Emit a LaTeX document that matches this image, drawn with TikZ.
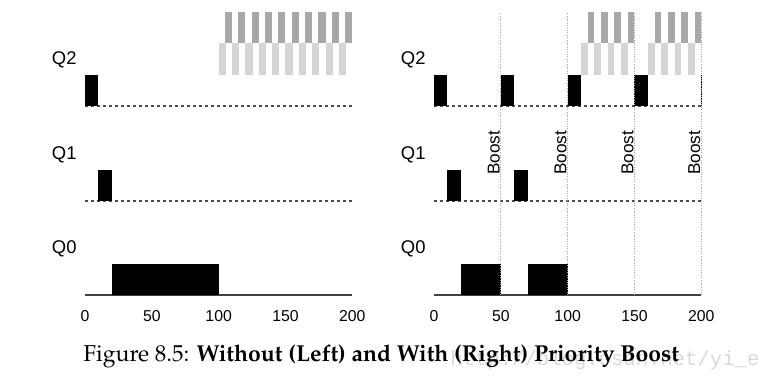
\documentclass[tikz,border=0pt]{standalone}
\usepackage[T1]{fontenc}
\usepackage{fontspec}
\setmainfont{Liberation Sans}
\newfontfamily\monofont{Liberation Mono}
\newcommand{\palatino}{\fontencoding{T1}\fontfamily{ppl}\selectfont}

\begin{document}
\begin{tikzpicture}[x=0.5pt,y=0.5pt,
  bloque/.style={fill=black},
  grisOsc/.style={fill=gray!68},
  grisCla/.style={fill=gray!33},
  lineaCola/.style={black!70,line width=0.7pt,dash pattern=on 1.6pt off 1.4pt},
  lineaEje/.style={black!75,line width=1pt},
  lineaBoost/.style={gray!70,line width=0.6pt,dash pattern=on 0.5pt off 0.7pt},
  cola/.style={anchor=west,inner sep=0pt,font=\fontsize{9.2}{11}\selectfont},
  marca/.style={anchor=base,inner sep=0pt,font=\fontsize{7.9}{9}\selectfont},
  boost/.style={rotate=90,anchor=base,inner sep=0pt,font=\fontsize{8.6}{10}\selectfont}]
\useasboundingbox (0,0) rectangle (772,382);
\def\escT{1.3365};%px por unidad de tiempo
\def\yQdos{276};%base Q2
\def\yQuno{181};%base Q1
\def\yQcero{87};%base Q0
\def\hB{31};%alto de bloque

%Paneles: ejes, colas y marcas
\foreach \ox/\lado in {85/izq,434/der}{
\begin{scope}[shift={(\ox,0)},xscale=\escT]
  \draw[lineaCola] (0,\yQdos) -- (200,\yQdos);
  \draw[lineaCola] (0,\yQuno) -- (200,\yQuno);
  \draw[lineaEje] (0,\yQcero) -- (200,\yQcero);
  \node[cola] (q2\lado) at (-25,322) {Q2};
  \node[cola] (q1\lado) at (-25,227) {Q1};
  \node[cola] (q0\lado) at (-25,133) {Q0};
  \foreach \t in {0,50,...,200}{
    \node[marca] (t\t\lado) at (\t,61) {\t};
  }
\end{scope}
}

%Sin boost
\begin{scope}[shift={(85,0)},xscale=\escT]
  \foreach \k in {0,...,9}{
    \fill[grisCla] (100+10*\k,307) rectangle (105.4+10*\k,339);
    \fill[grisOsc] (104.6+10*\k,339) rectangle (110+10*\k,370);
  }
  \fill[bloque] (0,\yQdos) rectangle (10,\yQdos+\hB);
  \fill[bloque] (10,\yQuno) rectangle (20,\yQuno+\hB);
  \fill[bloque] (20,\yQcero) rectangle (100,\yQcero+\hB);
\end{scope}

%Con boost
\begin{scope}[shift={(434,0)},xscale=\escT]
  \foreach \s in {110,160}{
    \foreach \k in {0,...,3}{
      \fill[grisCla] (\s+10*\k,307) rectangle (\s+5+10*\k,339);
      \fill[grisOsc] (\s+5+10*\k,339) rectangle (\s+10+10*\k,370);
    }
  }
  \foreach \a in {0,50,100,150}{
    \fill[bloque] (\a,\yQdos) rectangle (\a+10,\yQdos+\hB);
  }
  \fill[bloque] (199.4,\yQdos) rectangle (200.3,\yQdos+\hB);
  \foreach \a in {10,60}{
    \fill[bloque] (\a,\yQuno) rectangle (\a+10,\yQuno+\hB);
  }
  \foreach \a/\b in {20/50,70/100}{
    \fill[bloque] (\a,\yQcero) rectangle (\b,\yQcero+\hB);
  }
  \foreach \t in {50,100,150,200}{
    \draw[lineaBoost] (\t,\yQcero) -- (\t,370);
    \node[boost] (boost\t) at (\t-0.9,229) {Boost};
  }
\end{scope}

%Pie de figura
\node[anchor=base west,inner sep=0pt,text=gray!30,font=\monofont\fontsize{10.3}{12}\selectfont] (marcaAgua) at (450,17) {http://blog.csdn.net/yi\_e};
\node[anchor=base west,inner sep=0pt,font=\palatino\fontsize{11.5}{13}\selectfont] (pie) at (83,21) {Figure 8.5: {\bfseries Without (Left) and With (Right) Priority Boost}};
\end{tikzpicture}
\end{document}
